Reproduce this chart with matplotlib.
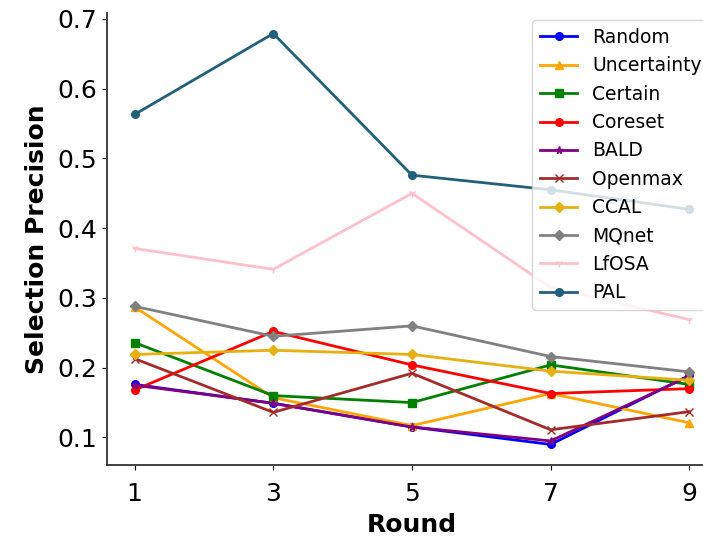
import matplotlib
matplotlib.use("Agg")
import matplotlib.pyplot as plt

rounds = [1, 3, 5, 7, 9]

random_p = [0.176, 0.149, 0.115, 0.090, 0.189]
uncertainty = [0.287, 0.157, 0.117, 0.163, 0.121]
certain = [0.236, 0.160, 0.150, 0.204, 0.176]
coreset = [0.168, 0.252, 0.204, 0.163, 0.170]
bald = [0.175, 0.149, 0.115, 0.095, 0.188]
openmax = [0.213, 0.136, 0.192, 0.111, 0.137]
ccal = [0.219, 0.225, 0.219, 0.195, 0.182]
mqnet = [0.288, 0.245, 0.260, 0.216, 0.194]
lfosa = [0.371, 0.341, 0.450, 0.315, 0.269]
pal = [0.563, 0.679, 0.476, 0.455, 0.427]

series = [
    ("Random", random_p, "blue", "o"),
    ("Uncertainty", uncertainty, "orange", "^"),
    ("Certain", certain, "green", "s"),
    ("Coreset", coreset, "red", "o"),
    ("BALD", bald, "purple", "*"),
    ("Openmax", openmax, "brown", "x"),
    ("CCAL", ccal, "#e6b010", "D"),
    ("MQnet", mqnet, "gray", "D"),
    ("LfOSA", lfosa, "pink", "1"),
    ("PAL", pal, "#20607a", "o"),
]

fig = plt.figure(figsize=(7.03, 5.41), dpi=100)
ax = fig.add_axes([0.152, 0.1405, 0.868, 0.8355])
for name, vals, col, mk in series:
    ax.plot(rounds, vals, color=col, marker=mk, lw=2.0, ms=5.5, label=name)

ax.set_xticks(rounds)
ax.tick_params(labelsize=18)
ax.tick_params(axis="x", pad=9)
ax.set_xlabel("Round", fontsize=18, fontweight="bold", labelpad=5)
ax.set_ylabel("Selection Precision", fontsize=18, fontweight="bold", labelpad=6)
ax.spines["top"].set_visible(False)
ax.spines["right"].set_visible(False)
for s in ax.spines.values():
    s.set_linewidth(1.3)
    s.set_color("#333333")
ax.legend(loc="upper right", fontsize=13.5, handlelength=2, labelspacing=0.5,
          borderaxespad=0.4, handletextpad=0.8)

fig.savefig("out.png", dpi=100)
